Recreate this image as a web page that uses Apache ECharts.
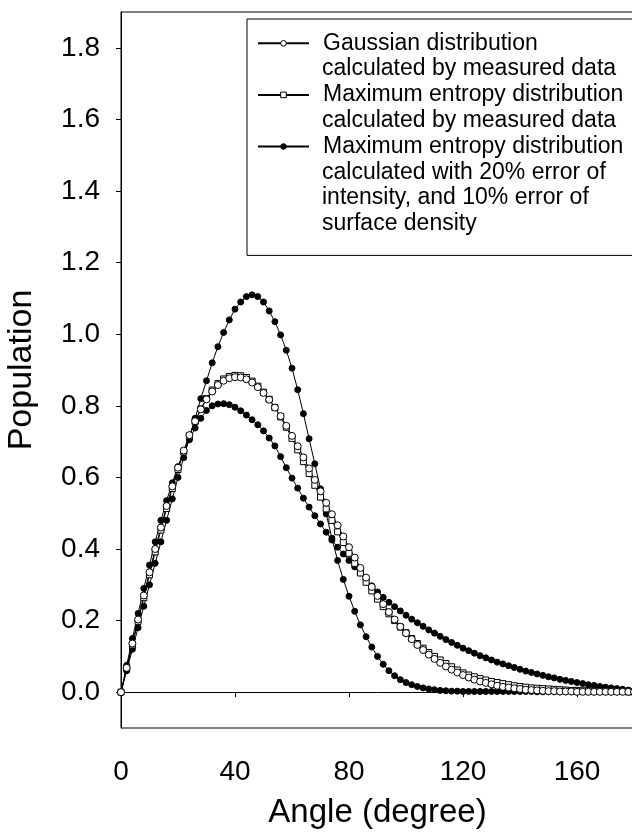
<!DOCTYPE html>
<html>
<head>
<meta charset="utf-8">
<title>Population vs angle</title>
<script src="https://cdn.jsdelivr.net/npm/echarts@6/dist/echarts.min.js"></script>
<style>body{margin:0;background:#fff}</style>
</head>
<body>
<div id="main" style="width:632px;height:834px;"></div>
<script>
// angle grid (degree), one point every 2 degrees
var angles = [0, 2, 4, 6, 8, 10, 12, 14, 16, 18, 20, 22, 24, 26, 28, 30, 32, 34, 36, 38,
    40, 42, 44, 46, 48, 50, 52, 54, 56, 58, 60, 62, 64, 66, 68, 70, 72, 74, 76, 78,
    80, 82, 84, 86, 88, 90, 92, 94, 96, 98, 100, 102, 104, 106, 108, 110, 112, 114, 116, 118,
    120, 122, 124, 126, 128, 130, 132, 134, 136, 138, 140, 142, 144, 146, 148, 150, 152, 154, 156, 158,
    160, 162, 164, 166, 168, 170, 172, 174, 176, 178, 180];

var gaussian = [0, 0.068, 0.136, 0.203, 0.27, 0.335, 0.4, 0.46, 0.52, 0.575,
    0.627, 0.675, 0.718, 0.757, 0.79, 0.818, 0.84, 0.858, 0.87, 0.877,
    0.88, 0.879, 0.874, 0.865, 0.852, 0.836, 0.817, 0.795, 0.771, 0.744,
    0.716, 0.687, 0.656, 0.625, 0.593, 0.561, 0.529, 0.497, 0.466, 0.435,
    0.405, 0.376, 0.347, 0.32, 0.294, 0.269, 0.246, 0.224, 0.203, 0.183,
    0.165, 0.148, 0.132, 0.118, 0.105, 0.093, 0.082, 0.072, 0.063, 0.055,
    0.048, 0.041, 0.035, 0.03, 0.026, 0.022, 0.018, 0.015, 0.013, 0.011,
    0.009, 0.007, 0.006, 0.005, 0.004, 0.003, 0.003, 0.002, 0.002, 0.002,
    0.001, 0.001, 0.001, 0.001, 0.001, 0.001, 0.001, 0.001, 0.001, 0.001,
    0.001];

var maxEntMeasured = [0, 0.066, 0.132, 0.198, 0.264, 0.328, 0.392, 0.453, 0.513, 0.569,
    0.622, 0.671, 0.716, 0.756, 0.791, 0.82, 0.844, 0.862, 0.875, 0.882,
    0.885, 0.884, 0.879, 0.869, 0.855, 0.838, 0.818, 0.795, 0.769, 0.74,
    0.709, 0.677, 0.644, 0.611, 0.578, 0.545, 0.512, 0.48, 0.448, 0.418,
    0.388, 0.36, 0.333, 0.307, 0.283, 0.26, 0.239, 0.219, 0.2, 0.182,
    0.166, 0.15, 0.136, 0.123, 0.111, 0.1, 0.09, 0.08, 0.071, 0.062,
    0.054, 0.048, 0.043, 0.038, 0.034, 0.03, 0.027, 0.024, 0.021, 0.018,
    0.016, 0.014, 0.012, 0.011, 0.01, 0.009, 0.008, 0.007, 0.006, 0.005,
    0.005, 0.004, 0.004, 0.003, 0.003, 0.003, 0.002, 0.002, 0.002, 0.001,
    0.001];

// the two curves drawn with 20% intensity / 10% surface density error
var maxEntErrHigh = [0, 0.06, 0.12, 0.18, 0.24, 0.3, 0.36, 0.42, 0.48, 0.54,
    0.6, 0.655, 0.71, 0.765, 0.82, 0.87, 0.92, 0.965, 1.005, 1.04,
    1.07, 1.09, 1.105, 1.11, 1.105, 1.09, 1.065, 1.035, 0.998, 0.955,
    0.905, 0.845, 0.778, 0.708, 0.638, 0.568, 0.498, 0.43, 0.368, 0.315,
    0.268, 0.226, 0.188, 0.155, 0.126, 0.1, 0.078, 0.06, 0.046, 0.035,
    0.027, 0.021, 0.016, 0.012, 0.009, 0.007, 0.005, 0.004, 0.003, 0.003,
    0.002, 0.002, 0.002, 0.002, 0.002, 0.002, 0.002, 0.002, 0.002, 0.002,
    0.002, 0.002, 0.002, 0.001, 0.001, 0.001, 0.001, 0.001, 0.001, 0.001,
    0.001, 0.001, 0.001, 0.001, 0.001, 0.001, 0.001, 0.001, 0.001, 0.001,
    0.001];

var maxEntErrLow = [0, 0.075, 0.15, 0.22, 0.29, 0.355, 0.42, 0.48, 0.535, 0.585,
    0.63, 0.67, 0.705, 0.738, 0.765, 0.787, 0.8, 0.805, 0.806, 0.803,
    0.796, 0.786, 0.774, 0.761, 0.747, 0.73, 0.71, 0.688, 0.658, 0.627,
    0.598, 0.57, 0.542, 0.517, 0.493, 0.47, 0.447, 0.425, 0.405, 0.386,
    0.368, 0.35, 0.334, 0.315, 0.297, 0.28, 0.265, 0.251, 0.239, 0.227,
    0.215, 0.204, 0.194, 0.184, 0.174, 0.165, 0.156, 0.147, 0.139, 0.131,
    0.123, 0.116, 0.109, 0.102, 0.096, 0.09, 0.084, 0.079, 0.074, 0.069,
    0.064, 0.059, 0.055, 0.051, 0.047, 0.043, 0.04, 0.036, 0.033, 0.03,
    0.027, 0.024, 0.021, 0.019, 0.016, 0.014, 0.012, 0.01, 0.008, 0.006,
    0.005];

var yTicks = [0, 0.2, 0.4, 0.6, 0.8, 1.0, 1.2, 1.4, 1.6, 1.8];

var legendNames = [
    'Gaussian distribution\ncalculated by measured data',
    'Maximum entropy distribution\ncalculated by measured data',
    'Maximum entropy distribution\ncalculated with 20% error of\nintensity, and 10% error of\nsurface density'
];

var FONT = '"Liberation Sans", Arial, Helvetica, sans-serif';
var LINE_H = 25.8;

function pairs(vals) {
    return angles.map(function (a, i) { return [a, vals[i]]; });
}

// legend shows the first line of each name, the rest goes below it
var extraLines = [];
legendNames.forEach(function (name, i) {
    var firstY = 43.3 + i * 2 * LINE_H;
    name.split('\n').slice(1).forEach(function (t, k) {
        extraLines.push({
            type: 'text',
            x: 322,
            y: firstY + (k + 1) * LINE_H,
            z: 100,
            style: {
                text: t,
                fontSize: 23,
                fontFamily: FONT,
                fill: '#000',
                verticalAlign: 'middle'
            }
        });
    });
});

function lineSeries(name, vals, symbol, fill, size) {
    return {
        name: name,
        type: 'line',
        data: pairs(vals),
        symbol: symbol,
        symbolSize: size,
        showSymbol: true,
        lineStyle: { color: '#000', width: 1 },
        itemStyle: { color: fill, borderColor: '#000', borderWidth: 1 },
        emphasis: { disabled: true },
        animation: false
    };
}

var chart = echarts.init(document.getElementById('main'));
chart.setOption({
    backgroundColor: '#fff',
    textStyle: { fontFamily: FONT, color: '#000' },
    grid: {
        left: 121, top: 12, width: 513, height: 716,
        outerBoundsMode: 'none',
        containLabel: false,
        show: true, borderColor: '#000', borderWidth: 1
    },
    legend: {
        orient: 'vertical',
        left: 247,
        top: 19,
        padding: [11.4, 40, 96, 10],
        itemGap: LINE_H,
        itemWidth: 51,
        itemHeight: 7,
        borderColor: '#000',
        borderWidth: 1,
        data: legendNames,
        itemStyle: { borderWidth: 1 },
        formatter: function (name) { return name.split('\n')[0]; },
        textStyle: { fontSize: 23, fontFamily: FONT, color: '#000', lineHeight: LINE_H, padding: [0, 0, 0, 9] }
    },
    graphic: extraLines,
    xAxis: {
        type: 'value',
        min: 0, max: 180, interval: 40,
        name: 'Angle (degree)',
        nameLocation: 'middle',
        nameGap: 68,
        nameTextStyle: { fontSize: 33, fontFamily: FONT, color: '#000' },
        axisLine: { lineStyle: { color: '#000', width: 1 } },
        axisTick: { inside: false, length: 5, lineStyle: { color: '#000' } },
        axisLabel: { fontSize: 28, color: '#000', margin: 30, showMaxLabel: false },
        splitLine: { show: false }
    },
    yAxis: {
        type: 'value',
        min: -0.1, max: 1.9,
        name: 'Population',
        nameLocation: 'middle',
        nameGap: 82,
        nameTextStyle: { fontSize: 34, fontFamily: FONT, color: '#000' },
        axisLine: { show: true, lineStyle: { color: '#000', width: 1 } },
        axisTick: { show: true, inside: false, length: 5, customValues: yTicks, lineStyle: { color: '#000' } },
        axisLabel: {
            fontSize: 28, color: '#000', margin: 21, customValues: yTicks,
            formatter: function (v) { return v.toFixed(1); }
        },
        splitLine: { show: false }
    },
    series: [
        lineSeries(legendNames[2], maxEntErrLow, 'circle', '#000', 6),
        lineSeries(legendNames[2], maxEntErrHigh, 'circle', '#000', 6),
        lineSeries(legendNames[1], maxEntMeasured, 'rect', '#fff', 6),
        lineSeries(legendNames[0], gaussian, 'circle', '#fff', 7)
    ]
});
</script>
</body>
</html>
